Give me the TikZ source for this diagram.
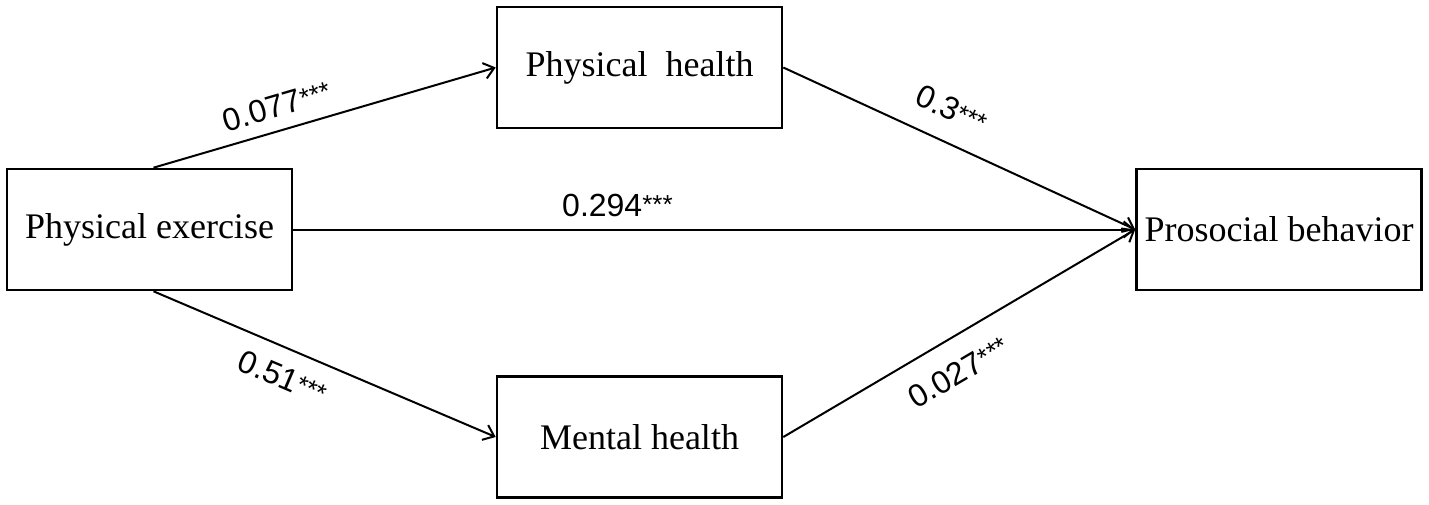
\documentclass[tikz,border=0pt]{standalone}
\usepackage{fontspec}
\usetikzlibrary{arrows.meta}
\setmainfont{Liberation Serif}
\newfontfamily\coeffont{Liberation Sans}
\newcommand\sig{\raisebox{1.2pt}{\fontsize{13}{13}\selectfont ***}}
\begin{document}
\begin{tikzpicture}[x=0.5pt, y=-0.5pt, line width=1pt,
	var/.style={draw, line width=1.3pt, minimum width=142.5pt, minimum height=60.5pt, inner sep=0pt, font=\fontsize{18}{20}\selectfont},
	path/.style={-{Straight Barb[length=5pt, width=8pt]}, line width=1pt},
	coef/.style={font=\coeffont\fontsize{16}{18}\selectfont, sloped, inner sep=0pt}]
			\useasboundingbox (0,0) rectangle (1429,504);
			\node[var] (pe) at (149.5,229.5) {Physical exercise};
			\node[var] (ph) at (639.5,67.5) {Physical\ \ health};
			\node[var] (mh) at (639.5,437) {Mental health};
			\node[var] (pb) at (1279,229.5) {Prosocial behavior};
			\draw [path] ([xshift=2pt]pe.north) -- node[coef, above=6pt, pos=.38] {0.077\sig} (ph.west);
			\draw [path] (pe.east) -- node[coef, above=6pt, pos=.385] {0.294\sig} (pb.west);
			\draw [path] ([xshift=2pt]pe.south) -- node[coef, below=8pt, pos=.41] {0.51\sig} (mh.west);
			\draw [path] (ph.east) -- node[coef, above=10pt, pos=.44] {0.3\sig} (pb.west);
			\draw [path] (mh.east) -- node[coef, below=10.5pt, pos=.45] {0.027\sig} (pb.west);
			\end{tikzpicture}
\end{document}
